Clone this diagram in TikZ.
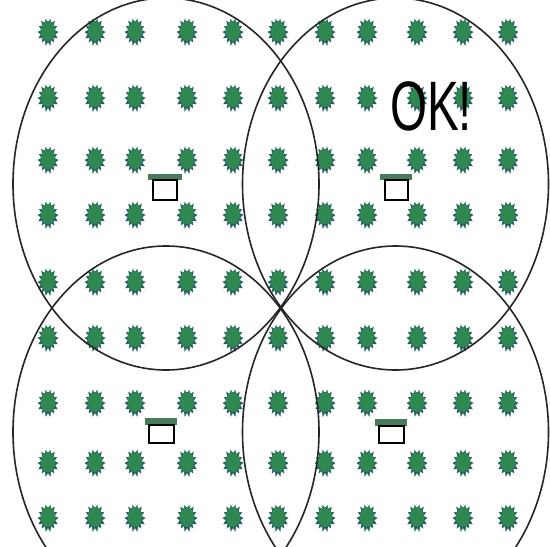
\documentclass[tikz,border=0pt]{standalone}
\usepackage{graphicx}
\usepackage{fontspec}
\setmainfont{Liberation Sans}
\definecolor{bushdark}{RGB}{40,98,100}
\definecolor{bushgreen}{RGB}{46,136,80}
\definecolor{roofgreen}{RGB}{72,122,92}
\tikzset{
  bush/.pic={
    \fill[bushdark] plot[samples=29,domain=0:360,variable=\t]
      ({(0.84+0.16*cos(14*\t)+0.04*sin(5*\t))*10.5*cos(\t)},{(0.84+0.16*cos(14*\t)+0.04*sin(5*\t))*14*sin(\t)}) -- cycle;
    \fill[bushgreen] (0,-1) ellipse (7.2 and 10);
  },
  ring/.style={draw=black!85,line width=1.6pt},
  roof/.style={fill=roofgreen},
  hut/.style={draw=black,line width=1.1pt,fill=white}
}
\begin{document}
\begin{tikzpicture}[x=1pt,y=-1pt]
\useasboundingbox (0,0) rectangle (550,547);
\fill[white] (0,0) rectangle (550,547);
% bushes
\foreach \x in {48,95,135,187,233,278,325,367,417,463,508}
  \foreach \y in {32,98,160,215,282,338,403,463,518}
    \pic at (\x,\y) {bush};
% coverage rings
\draw[ring] (166,184) ellipse (153 and 186);
\draw[ring] (395.5,184) ellipse (153 and 186);
\draw[ring] (166,432) ellipse (153 and 186);
\draw[ring] (395.5,432) ellipse (153 and 186);
% huts
\fill[roof] (148,174) rectangle (182,180);
\draw[hut] (153,180) rectangle (177,200);
\fill[roof] (380,174) rectangle (412,180);
\draw[hut] (385,180) rectangle (408,200);
\fill[roof] (145,418) rectangle (177,425);
\draw[hut] (149,425) rectangle (174,443);
\fill[roof] (375,419) rectangle (407,426);
\draw[hut] (379,426) rectangle (404,443);
% label
\node[anchor=base,inner sep=0pt] (ok) at (431,130) {\fontsize{70}{70}\selectfont\scalebox{0.68}[1]{OK!}};
\end{tikzpicture}
\end{document}
